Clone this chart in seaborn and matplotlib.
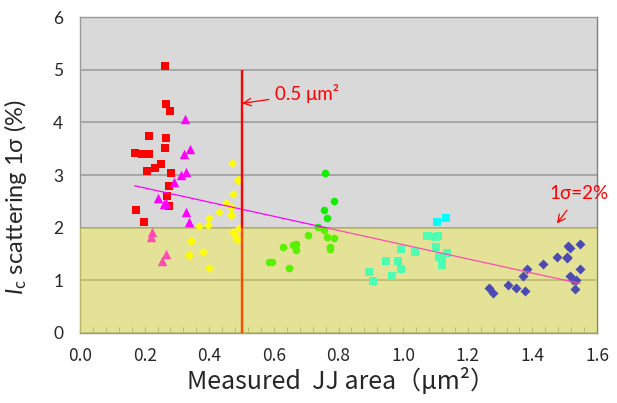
import numpy as np
import pandas as pd
import seaborn as sns
import matplotlib.pyplot as plt
from matplotlib.ticker import MultipleLocator

# Data: JJ area (um^2) vs Ic scattering 1 sigma (%)
red_x = [0.264, 0.266, 0.279, 0.213, 0.266, 0.263, 0.169, 0.191, 0.214, 0.250,
         0.232, 0.208, 0.281, 0.274, 0.269, 0.274, 0.173, 0.199]
red_y = [5.07, 4.34, 4.22, 3.75, 3.71, 3.52, 3.42, 3.40, 3.40, 3.21,
         3.13, 3.07, 3.03, 2.80, 2.60, 2.42, 2.33, 2.11]

mag_x = [0.326, 0.340, 0.323, 0.327, 0.313, 0.292, 0.242, 0.266, 0.261, 0.328,
         0.336, 0.224, 0.219, 0.267, 0.253]
mag_y = [4.07, 3.49, 3.40, 3.06, 3.00, 2.87, 2.57, 2.47, 2.45, 2.29,
         2.11, 1.91, 1.82, 1.50, 1.37]

yel_x = [0.471, 0.490, 0.473, 0.453, 0.466, 0.429, 0.468, 0.400, 0.369, 0.395,
         0.474, 0.491, 0.482, 0.485, 0.344, 0.381, 0.337, 0.399]
yel_y = [3.23, 2.90, 2.64, 2.46, 2.40, 2.30, 2.25, 2.18, 2.04, 2.05,
         1.92, 1.99, 1.82, 1.78, 1.75, 1.54, 1.49, 1.23]

grn_x = [0.759, 0.785, 0.755, 0.764, 0.736, 0.756, 0.705, 0.764, 0.786, 0.629,
         0.660, 0.669, 0.668, 0.774, 0.774, 0.595, 0.584, 0.647]
grn_y = [3.04, 2.50, 2.34, 2.19, 2.02, 1.95, 1.86, 1.83, 1.81, 1.63,
         1.67, 1.69, 1.57, 1.63, 1.59, 1.35, 1.35, 1.24]

cyn_x = [1.133, 1.104, 1.074, 1.099, 1.108, 1.102, 0.993, 1.038, 1.137, 1.120,
         1.110, 0.947, 0.984, 1.121, 0.992, 0.895, 0.966, 0.906]
cyn_y = [2.18, 2.10, 1.84, 1.83, 1.84, 1.64, 1.59, 1.54, 1.51, 1.45,
         1.45, 1.37, 1.37, 1.29, 1.21, 1.16, 1.08, 0.98]

blu_x = [1.510, 1.516, 1.546, 1.477, 1.506, 1.508, 1.434, 1.548, 1.383, 1.371,
         1.517, 1.534, 1.526, 1.326, 1.348, 1.378, 1.266, 1.278, 1.533]
blu_y = [1.66, 1.61, 1.69, 1.44, 1.45, 1.42, 1.31, 1.21, 1.21, 1.08,
         1.08, 1.01, 1.01, 0.91, 0.86, 0.79, 0.86, 0.76, 0.83]

x_ticks = [0.0, 0.2, 0.4, 0.6, 0.8, 1.0, 1.2, 1.4, 1.6]
y_ticks = [0, 1, 2, 3, 4, 5, 6]
target_area = 0.5
target_sigma = 2

groups = {
    'red': (red_x, red_y, 's', '#FF0000', 36),
    'magenta': (mag_x, mag_y, '^', '#FF00FF', 46),
    'yellow': (yel_x, yel_y, 'D', '#FFFF00', 22),
    'green': (grn_x, grn_y, 'o', '#11EE00', 30),
    'cyan': (cyn_x, cyn_y, 's', '#00FFFF', 26),
    'blue': (blu_x, blu_y, 'D', '#0000FF', 26),
}

df = pd.concat([pd.DataFrame({'area': g[0], 'sigma': g[1], 'group': name})
                for name, g in groups.items()], ignore_index=True)

sns.set_style('white')
plt.rcParams['mathtext.fontset'] = 'custom'
plt.rcParams['mathtext.rm'] = 'Lato'
plt.rcParams['mathtext.it'] = 'Lato:italic'

fig = plt.figure(figsize=(6.17, 4.03), dpi=100)
ax = fig.add_axes([0.1297, 0.1737, 0.8379, 0.7841])
ax.set_facecolor('#D9D9D9')

for name, (gx, gy, mk, col, sz) in groups.items():
    sub = df[df['group'] == name]
    sns.scatterplot(data=sub, x='area', y='sigma', marker=mk, color=col, s=sz,
                    linewidth=0, ax=ax, zorder=3, legend=False)

# linear trend over all points
coef = np.polyfit(df['area'], df['sigma'], 1)
fx = np.array([df['area'].min(), df['area'].max()])
sns.lineplot(x=fx, y=np.polyval(coef, fx), color='#FF00FF', lw=0.9, ax=ax, zorder=4)

# 0.5 um2 marker line
ax.vlines(target_area, 0, 5, color='#FF0000', lw=1.7, zorder=5)

# yellow tinted region below 2 %
ax.axhspan(0, target_sigma, color='#FFFA00', alpha=0.3, lw=0, zorder=6)

for yv in y_ticks:
    ax.axhline(yv, color='#999999', lw=1.1, zorder=1)

ax.set_xlim(0, 1.6)
ax.set_ylim(0, 6)
ax.set_xticks(x_ticks)
ax.set_xticklabels([f'{v:.1f}' for v in x_ticks], fontsize=12.5,
                   family=['Noto Sans CJK JP', 'DejaVu Sans'])
ax.set_yticks(y_ticks)
ax.set_yticklabels([str(v) for v in y_ticks], fontsize=12.5, family=['Lato', 'DejaVu Sans'])
ax.xaxis.set_minor_locator(MultipleLocator(0.04))
ax.tick_params(axis='x', which='both', direction='in', length=4, color='#999999',
               bottom=True, pad=10)
ax.tick_params(axis='y', length=0, pad=12)

for s in ax.spines.values():
    s.set_color('#999999')
    s.set_linewidth(1)
ax.spines['right'].set_color('#808080')

ax.set_ylabel(r'$\mathit{I}_\mathrm{c}$ scattering 1σ (%)', fontsize=17,
              family=['Lato', 'DejaVu Sans'])
ax.yaxis.set_label_coords(-0.098, 0.43)
ax.set_xlabel('Measured  JJ area（μm²）', fontsize=18,
              family=['Noto Sans CJK JP', 'DejaVu Sans'])
ax.xaxis.set_label_coords(0.505, -0.155)
ax.xaxis.label.set_va('center')

ax.annotate('0.5 μm²', xy=(0.502, 4.36), xytext=(0.603, 4.54), color='#FF0000',
            fontsize=13.5, family=['Lato', 'DejaVu Sans'], ha='left', va='center',
            arrowprops=dict(arrowstyle='->', color='#FF0000', lw=0.9,
                            shrinkA=2, shrinkB=0), zorder=7)
ax.annotate('1σ=2%', xy=(1.476, 2.08), xytext=(1.545, 2.64), color='#FF0000',
            fontsize=13.5, family=['Lato', 'DejaVu Sans'], ha='center', va='center',
            arrowprops=dict(arrowstyle='->', color='#FF0000', lw=0.9,
                            shrinkA=4, shrinkB=0), zorder=7)

fig.savefig('out.png', dpi=100)
